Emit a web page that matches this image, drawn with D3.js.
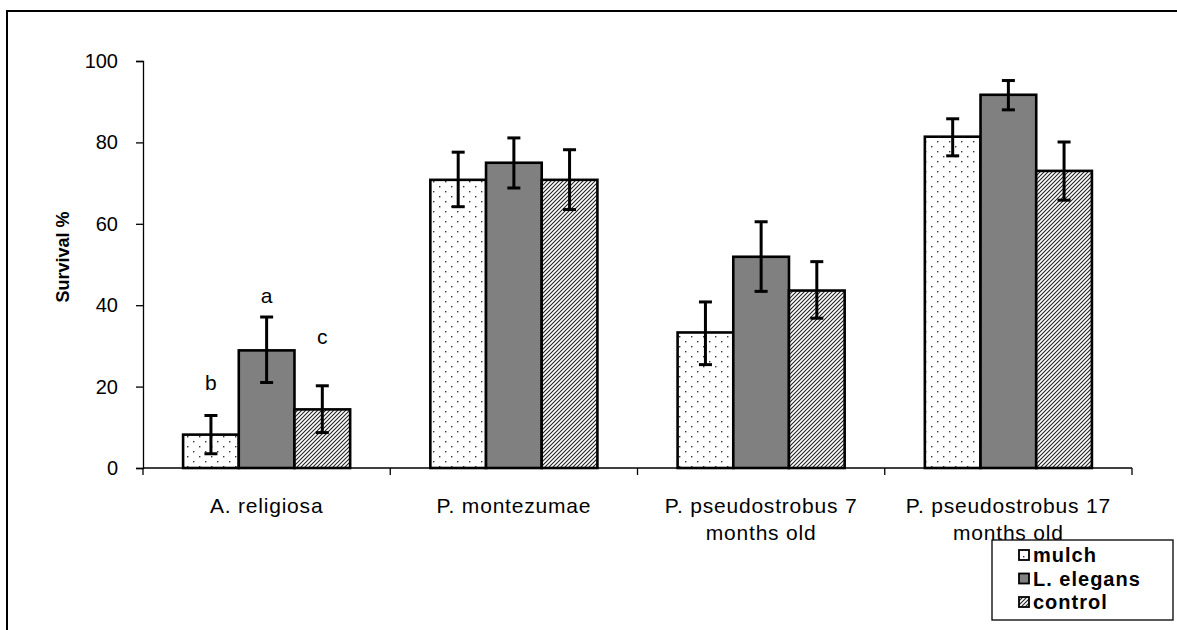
<!DOCTYPE html>
<html>
<head>
<meta charset="utf-8">
<script src="https://cdn.jsdelivr.net/npm/d3@7"></script>
<style>
  html, body { margin: 0; padding: 0; background: #fff; }
  svg { display: block; font-family: "Liberation Sans", Arial, sans-serif; }
</style>
</head>
<body>
<svg id="chart" width="1177" height="630"></svg>
<script>
// Survival of seedlings by species and treatment
const categories = [
  ["A. religiosa"],
  ["P. montezumae"],
  ["P. pseudostrobus 7", "months old"],
  ["P. pseudostrobus 17", "months old"]
];
const seriesNames = ["mulch", "L. elegans", "control"];
const mulch      = [8.2, 70.8, 33.3, 81.4];
const lElegans   = [28.9, 75.0, 51.9, 91.7];
const control    = [14.4, 70.8, 43.6, 73.0];
const errLow     = [[3.5, 64.2, 25.4, 76.7], [21.0, 68.8, 43.4, 88.0], [8.7, 63.5, 36.8, 65.8]];
const errHigh    = [[12.9, 77.6, 40.8, 85.8], [37.1, 81.1, 60.5, 95.2], [20.2, 78.2, 50.7, 80.1]];
const yTicks     = [0, 20, 40, 60, 80, 100];
const letters    = [["b", "a", "c"]];

const svg = d3.select("#chart");
const FONT = "Liberation Sans, Arial, sans-serif";

// fill patterns
const defs = svg.append("defs");
const dots = defs.append("pattern").attr("id", "dots")
  .attr("patternUnits", "userSpaceOnUse").attr("width", 12).attr("height", 10);
dots.append("rect").attr("width", 12).attr("height", 10).attr("fill", "#fff");
dots.append("rect").attr("x", 1).attr("y", 1).attr("width", 1.4).attr("height", 1.4).attr("fill", "#333");
dots.append("rect").attr("x", 7).attr("y", 6).attr("width", 1.4).attr("height", 1.4).attr("fill", "#333");

const hatch = defs.append("pattern").attr("id", "hatch")
  .attr("patternUnits", "userSpaceOnUse").attr("width", 4).attr("height", 4);
hatch.append("rect").attr("width", 4).attr("height", 4).attr("fill", "#fff");
hatch.append("path").attr("d", "M-1,1 l2,-2 M0,4 l4,-4 M3,5 l2,-2")
  .attr("stroke", "#222").attr("stroke-width", 1.1);

const fills = ["url(#dots)", "#808080", "url(#hatch)"];

// outer frame
svg.append("rect").attr("x", 7).attr("y", 11).attr("width", 1200).attr("height", 700)
  .attr("fill", "none").attr("stroke", "#000").attr("stroke-width", 2);

const x0 = d3.scaleBand().domain(d3.range(categories.length)).range([143, 1132]);
const y = d3.scaleLinear().domain([0, 100]).range([468, 61]);
const x1 = d3.scaleBand().domain(d3.range(seriesNames.length))
  .range([0, x0.bandwidth()]).paddingInner(0).paddingOuter(0.72);

// y axis
const yAxis = svg.append("g").attr("transform", "translate(143,0)")
  .call(d3.axisLeft(y).tickValues(yTicks).tickSize(7).tickPadding(18).tickFormat(d3.format("d")));
yAxis.select(".domain").attr("stroke-width", 1.3);
yAxis.selectAll(".tick line").attr("stroke-width", 1.3);
yAxis.selectAll("text").attr("font-size", 20).attr("fill", "#000").attr("font-family", FONT);

// x axis with ticks between categories
const xAxis = svg.append("g").attr("transform", "translate(0,468)");
xAxis.append("line").attr("x1", 143).attr("x2", 1132).attr("stroke", "#000").attr("stroke-width", 1.3);
const edges = d3.range(categories.length).map(i => x0(i)).concat([x0.range()[1]]);
xAxis.selectAll("line.tk").data(edges).join("line").attr("class", "tk")
  .attr("x1", d => d).attr("x2", d => d)
  .attr("y1", 0).attr("y2", 7).attr("stroke", "#000").attr("stroke-width", 1.3);

const catLabels = svg.append("g");
categories.forEach((lines, i) => {
  const cx = x0(i) + x0.bandwidth() / 2;
  const t = catLabels.append("text").attr("x", cx).attr("y", 513)
    .attr("text-anchor", "middle").attr("font-size", 21).attr("letter-spacing", 0.8).attr("fill", "#000");
  lines.forEach((ln, k) => t.append("tspan").attr("x", cx)
    .attr("dy", k === 0 ? 0 : 27).text(ln));
});

// y title
svg.append("text").attr("transform", "translate(69,257) rotate(-90)")
  .attr("text-anchor", "middle").attr("font-size", 18).attr("font-weight", "bold")
  .text("Survival %");

// bars
const allSeries = [mulch, lElegans, control];
const barG = svg.append("g");
allSeries.forEach((vals, s) => {
  barG.selectAll(null).data(vals).join("rect")
    .attr("x", (d, i) => x0(i) + x1(s))
    .attr("y", d => y(d))
    .attr("width", x1.bandwidth())
    .attr("height", d => y(0) - y(d))
    .attr("fill", fills[s]).attr("stroke", "#000").attr("stroke-width", 2.6);
});

// error bars
const errG = svg.append("g").attr("stroke", "#000").attr("stroke-width", 3);
allSeries.forEach((vals, s) => {
  vals.forEach((v, i) => {
    const cx = x0(i) + x1(s) + x1.bandwidth() / 2;
    const lo = y(errLow[s][i]), hi = y(errHigh[s][i]);
    errG.append("line").attr("x1", cx).attr("x2", cx).attr("y1", lo).attr("y2", hi);
    errG.append("line").attr("x1", cx - 6.5).attr("x2", cx + 6.5).attr("y1", lo).attr("y2", lo);
    errG.append("line").attr("x1", cx - 6.5).attr("x2", cx + 6.5).attr("y1", hi).attr("y2", hi);
  });
});

// significance letters above the error bars
const letterGap = [25, 14, 42];
letters.forEach((row, i) => {
  row.forEach((L, s) => {
    const cx = x0(i) + x1(s) + x1.bandwidth() / 2;
    svg.append("text").attr("x", cx).attr("y", y(errHigh[s][i]) - letterGap[s])
      .attr("text-anchor", "middle").attr("font-size", 21).text(L);
  });
});

// legend
const lg = svg.append("g").attr("transform", "translate(992,540)");
lg.append("rect").attr("width", 181).attr("height", 80).attr("fill", "#fff")
  .attr("stroke", "#000").attr("stroke-width", 1.3);
seriesNames.forEach((name, s) => {
  const yy = 15 + s * 23.5;
  lg.append("rect").attr("x", 27).attr("y", yy - 5).attr("width", 10).attr("height", 10)
    .attr("fill", fills[s]).attr("stroke", "#000").attr("stroke-width", 1.8);
  lg.append("text").attr("x", 41).attr("y", yy + 7).attr("font-size", 20).attr("font-weight", "bold")
    .attr("letter-spacing", 1).text(name);
});
</script>
</body>
</html>
